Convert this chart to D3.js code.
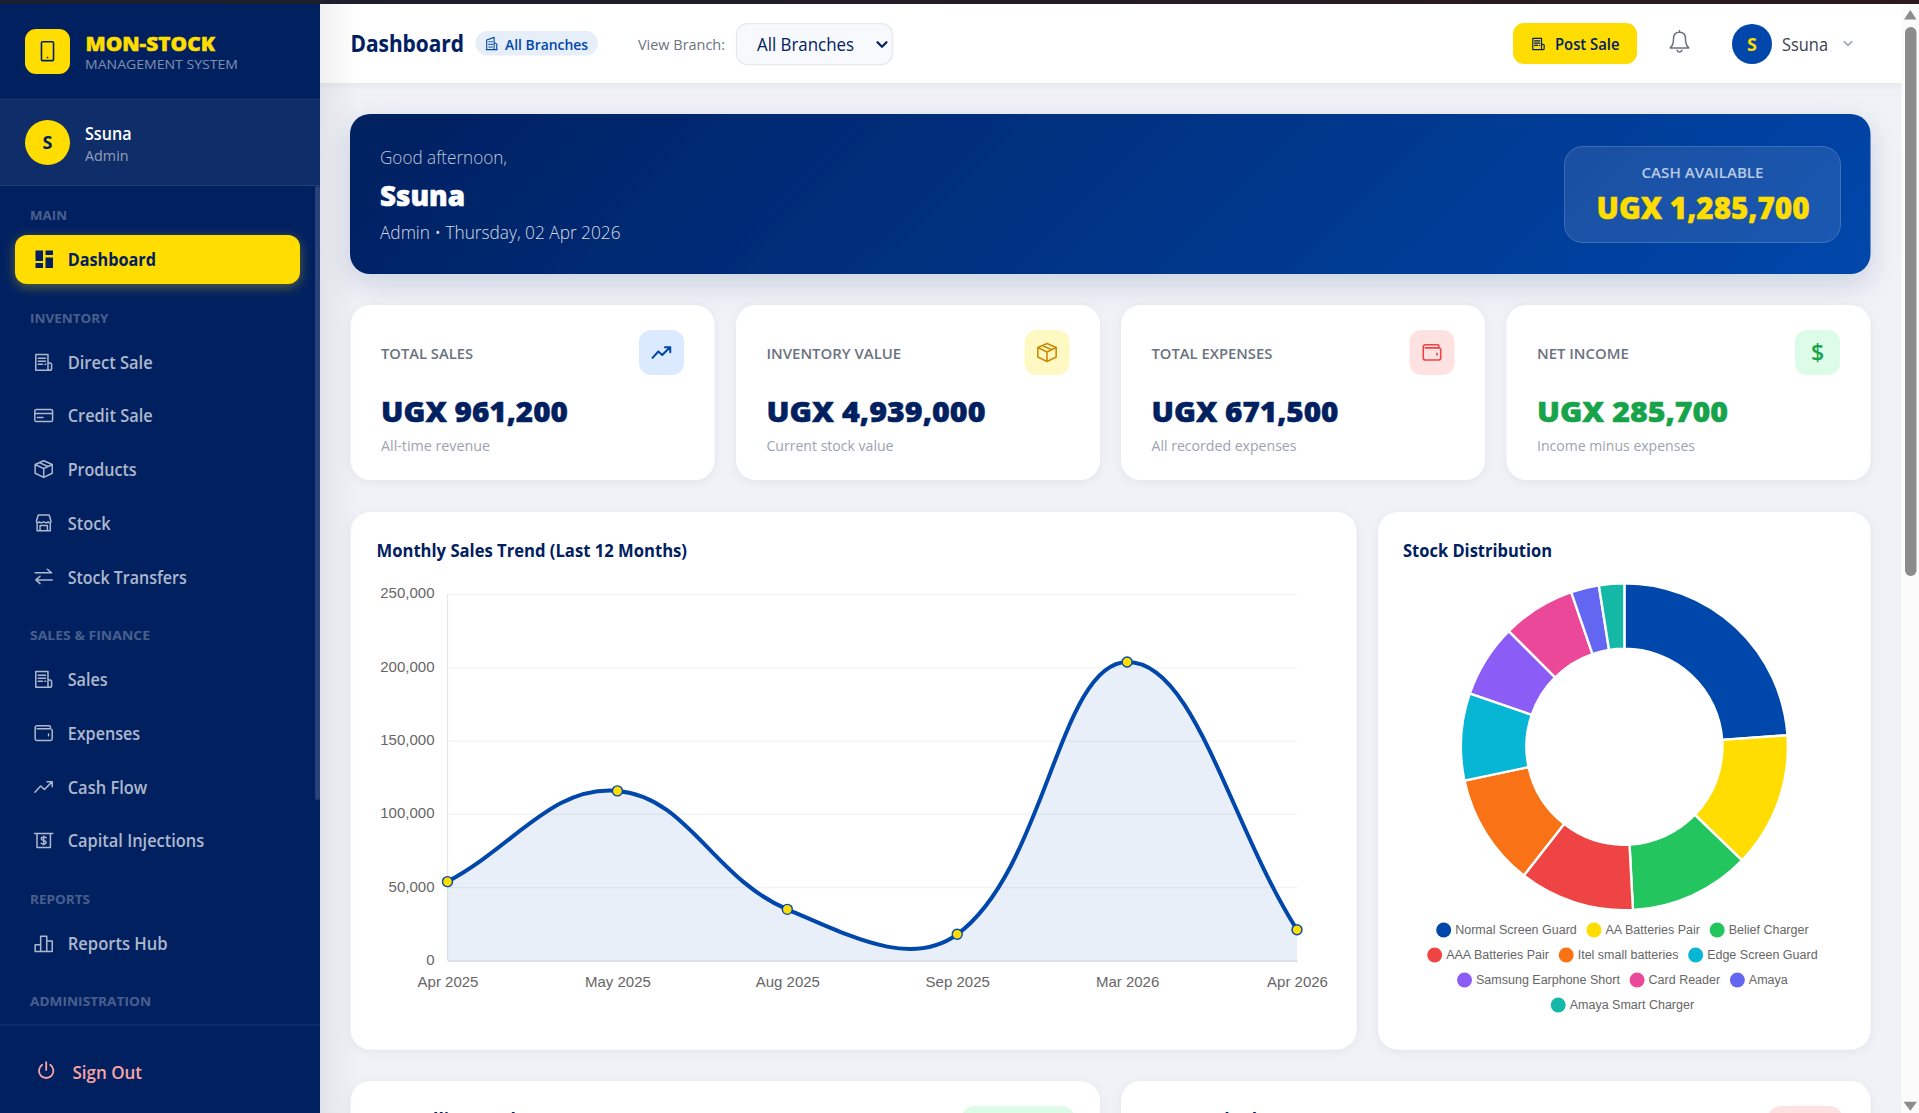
<!DOCTYPE html>
<html><head><meta charset="utf-8"><title>Dashboard</title>
<script src="https://cdn.jsdelivr.net/npm/d3@7"></script>
<style>html,body{margin:0;padding:0;overflow:hidden;background:#f0f2f7}svg{display:block}</style>
</head><body><svg id="page" width="1919" height="1113" viewBox="0 0 1919 1113"></svg>
<script>
// ---------- chart data ----------
const saleMonths = ['Apr 2025','May 2025','Aug 2025','Sep 2025','Mar 2026','Apr 2026'];
const saleValues = [53800,115700,34900,17900,203600,21000];
const salesTicks = [0,50000,100000,150000,200000,250000];
const stockNames = ['Normal Screen Guard','AA Batteries Pair','Belief Charger','AAA Batteries Pair','Itel small batteries','Edge Screen Guard','Samsung Earphone Short','Card Reader','Amaya','Amaya Smart Charger'];
const stockValues = [86,48,43,41,40,31,26,26,10,9];
const stockColors = ['#0047ab','#ffdd00','#22c55e','#ef4444','#f97316','#06b6d4','#8b5cf6','#ec4899','#6366f1','#14b8a6'];
// ---------- page text ----------
const kpiLabels = ['TOTAL SALES','INVENTORY VALUE','TOTAL EXPENSES','NET INCOME'];
const kpiValues = ['UGX 961,200','UGX 4,939,000','UGX 671,500','UGX 285,700'];
const kpiNotes = ['All-time revenue','Current stock value','All recorded expenses','Income minus expenses'];

const FONT = "'Open Sans','Noto Sans',sans-serif", ARIAL = "'Liberation Sans',Arial,sans-serif";
const NAVY='#002060', BLUE='#0047ab', YEL='#ffdd00';
const svg = d3.select('#page');
const defs = svg.append('defs');

function T(g,s,x,y,o={}){
  const t=g.append('text').text(s).attr('x',x).attr('y',y)
    .attr('font-family',o.font||FONT).attr('font-size',o.size||15).attr('font-weight',o.weight||400)
    .attr('fill',o.fill||'#000');
  if(o.anchor) t.attr('text-anchor',o.anchor);
  if(o.op) t.attr('fill-opacity',o.op);
  if(o.w) t.attr('textLength',o.w).attr('lengthAdjust','spacingAndGlyphs');
  if(o.heavy) t.attr('stroke',o.fill).attr('stroke-width',o.heavy).attr('stroke-linejoin','round');
  return t;
}
function R(g,x0,y0,x1,y1,r,fill,o={}){
  const e=g.append('rect').attr('x',x0).attr('y',y0).attr('width',x1-x0).attr('height',y1-y0).attr('rx',r).attr('fill',fill);
  if(o.stroke) e.attr('stroke',o.stroke).attr('stroke-width',o.sw||1);
  if(o.filter) e.attr('filter',`url(#${o.filter})`);
  return e;
}
function shadow(id,dy,std,col,op){
  const f=defs.append('filter').attr('id',id).attr('x','-20%').attr('y','-30%').attr('width','140%').attr('height','170%');
  f.append('feDropShadow').attr('dx',0).attr('dy',dy).attr('stdDeviation',std).attr('flood-color',col).attr('flood-opacity',op);
}
shadow('sCard',2,5,'#001040',0.06);
shadow('sHero',10,14,NAVY,0.16);
shadow('sGlow',3,6,YEL,0.35);
function lin(id,x1,y1,x2,y2,stops,user){
  const g=defs.append('linearGradient').attr('id',id).attr('x1',x1).attr('y1',y1).attr('x2',x2).attr('y2',y2);
  if(user) g.attr('gradientUnits','userSpaceOnUse');
  stops.forEach(s=>g.append('stop').attr('offset',s[0]).attr('stop-color',s[1]).attr('stop-opacity',s[2]==null?1:s[2]));
}
lin('gHero',690.5,-226,1530.5,614,[[0,NAVY],[1,BLUE]],true);
lin('gSide',0,0,1,0,[[0,'#000',0.06],[1,'#000',0]]);
lin('gTop',0,0,0,1,[[0,'#000',0.035],[1,'#000',0]]);
lin('gStrip',0,0,1,0,[[0,'#1b2030'],[1,'#2c1a1c']]);

const ICONS={
 receipt:'M1.5 14.5V1.5H11.5V14.5ZM3.5 4.5H9.5M3.5 7H9.5M3.5 9.5H7M9 9.5H9.7M11.5 8.5H13.2A1.3 1.3 0 0 1 14.5 9.8V13A1.5 1.5 0 0 1 11.5 13',
 card:'M2 3H14A1.3 1.3 0 0 1 15.3 4.3V11.7A1.3 1.3 0 0 1 14 13H2A1.3 1.3 0 0 1 .7 11.7V4.3A1.3 1.3 0 0 1 2 3ZM.7 6.3H15.3M2.8 9.6H7.5',
 box:'M8 1.2L15 4.2V11.4L8 14.8L1 11.4V4.2ZM1 4.2L8 7.6L15 4.2M8 7.6V14.8M4.4 2.7L11.6 5.9',
 shop:'M2 6.5L3.5 1.5H12.5L14 6.5C14 8 12.2 8 11.7 7C11 8 9 8 8 7C7 8 5 8 4.3 7C3.8 8 2 8 2 6.5ZM2.6 7.8V14.3H13.4V7.8M5 14.3V10H11V14.3',
 swap:'M1 4.6H14M11 1.6L14.4 4.6M1.6 10.4H15M5 7.4L1.6 10.4L5 13.4',
 wallet:'M3 1.8H12.5A1 1 0 0 1 13.5 2.8V4.3M2.6 4.3H13.5A1.6 1.6 0 0 1 15 5.8V12.5A1.6 1.6 0 0 1 13.5 14H2.6A1.6 1.6 0 0 1 1 12.5V3.4A1.6 1.6 0 0 1 2.6 1.8M12 8.6V10',
 trend:'M.8 12.3L5.5 7.2L8.6 10L14.6 4M10.8 3.7H15V7.8',
 cash:'M.5 2.2H15.5M2.5 2.2V13.8H13.5V2.2M8 4.6V11.4M10 5.8C9.5 4.8 6 4.6 6 6.5C6 8.6 10 7.4 10 9.5C10 11.4 6.5 11.2 6 10.2',
 bars:'M1 14.5V9H5.5V14.5ZM5.5 14.5V2H10.5V14.5ZM10.5 14.5V6H15V14.5Z',
 power:'M8 1V8M4.4 3.4A6.4 6.4 0 1 0 11.6 3.4',
 bell:'M8 1V2.2M8 2.2C5.2 2.2 4 4.3 4 6.6C4 10 3 11.5 1.8 12.6H14.2C13 11.5 12 10 12 6.6C12 4.3 10.8 2.2 8 2.2ZM6.4 14.2A1.7 1.7 0 0 0 9.6 14.2',
 building:'M2.5 15V4L11 1V15ZM11 7L14 8.5V15M2 15H14.5M5 6H6.4M8 6H9M5 9H6.4M8 9H9M5 12H9',
 phone:'M4.2 .8H11.8A.8.8 0 0 1 12.6 1.6V14.4A.8.8 0 0 1 11.8 15.2H4.2A.8.8 0 0 1 3.4 14.4V1.6A.8.8 0 0 1 4.2 .8ZM7.9 12.8H8.1',
 chev:'M2 5L8 11L14 5'
};
function icon(g,name,cx,cy,size,col,sw){
  const k=size/16;
  return g.append('path').attr('d',ICONS[name]).attr('transform',`translate(${cx-size/2},${cy-size/2}) scale(${k})`)
    .attr('fill','none').attr('stroke',col).attr('stroke-width',(sw||1.5)/k).attr('stroke-linejoin','round').attr('stroke-linecap','round');
}

// ---------- main background ----------
const mainG=svg.append('g');
R(mainG,0,0,1919,1113,0,'#f0f2f7');

// hero
R(mainG,350,114,1870.5,274,20,'url(#gHero)',{filter:'sHero'});
T(mainG,'Good afternoon,',380,164,{size:17.5,weight:300,fill:'#fff',op:.75,w:127});
T(mainG,'Ssuna',380,205.5,{size:28.5,weight:800,fill:'#fff',w:85,heavy:.6});
T(mainG,'Admin • Thursday, 02 Apr 2026',380,239,{size:17.5,weight:300,fill:'#fff',op:.85,w:240.5});
R(mainG,1564.5,146.5,1840.5,242.5,18,'#fff',{stroke:'#fff'}).attr('fill-opacity',.1).attr('stroke-opacity',.2);
T(mainG,'CASH AVAILABLE',1702.5,178.3,{size:15,weight:600,fill:'#fff',op:.7,anchor:'middle',w:122});
T(mainG,'UGX 1,285,700',1703,218.5,{size:30,weight:800,fill:YEL,anchor:'middle',w:213,heavy:.5});

// KPI cards
const kpiX=[350.5,736,1121,1506.5], kpiW=364;
const kpiBg=['#dbeafe','#fef9c3','#fee2e2','#dcfce7'], kpiFg=[BLUE,'#ca8a04','#ef4444','#16a34a'];
const kpiLabelW=[92,134.7,120.8,91.8], kpiValueW=[187,219,187,191], kpiNoteW=[109,127,145,158];
kpiLabels.forEach((lab,i)=>{
  const x=kpiX[i], g=mainG.append('g');
  R(g,x,305,x+kpiW,480,20,'#fff',{filter:'sCard'});
  T(g,lab,x+30.5,359,{size:15,weight:600,fill:'#6b7280',w:kpiLabelW[i]});
  T(g,kpiValues[i],x+30.5,421.7,{size:29,weight:800,fill:i===3?'#16a34a':NAVY,w:kpiValueW[i],heavy:.5});
  T(g,kpiNotes[i],x+30.5,451,{size:15,fill:'#9ca3af',w:kpiNoteW[i]});
  R(g,x+288.5,330,x+333.5,375,12,kpiBg[i]);
  const cx=x+311, cy=352.5;
  if(i===0) icon(g,'trend',cx,cy,20,kpiFg[i],2);
  if(i===1) icon(g,'box',cx,cy,21,kpiFg[i],1.6);
  if(i===2) icon(g,'wallet',cx,cy,20,kpiFg[i],1.6);
  if(i===3) T(g,'$',cx,cy+8,{size:23,weight:600,fill:kpiFg[i],anchor:'middle'});
});

// ---------- line chart card ----------
const lc=mainG.append('g');
R(lc,350.5,512,1356.5,1049.5,20,'#fff',{filter:'sCard'});
T(lc,'Monthly Sales Trend (Last 12 Months)',376.5,557,{size:17.5,weight:700,fill:NAVY,w:310.5});
const xS=d3.scalePoint().domain(saleMonths).range([447.5,1297]);
const yS=d3.scaleLinear().domain([0,250000]).range([960.5,594]);
const gridG=lc.append('g').attr('transform','translate(447.5,0)')
  .call(d3.axisLeft(yS).tickValues(salesTicks).tickFormat(d3.format(',')).tickSize(-(1297-447.5)).tickPadding(13));
gridG.select('.domain').remove();
gridG.selectAll('.tick line').attr('stroke','#000').attr('stroke-opacity',.05).attr('stroke-width',1.25);
gridG.selectAll('.tick text').attr('font-family',ARIAL).attr('font-size',15).attr('fill','#666').attr('y',-1);
lc.append('line').attr('x1',447.5).attr('x2',447.5).attr('y1',594).attr('y2',960.5).attr('stroke','#e5e7eb').attr('stroke-width',1.25);
const xAxisG=lc.append('g').attr('transform','translate(0,960.5)').call(d3.axisBottom(xS).tickSize(0).tickPadding(16));
xAxisG.select('.domain').attr('stroke','#d3d8e4').attr('stroke-width',1.25);
xAxisG.selectAll('.tick text').attr('font-family',ARIAL).attr('font-size',15).attr('fill','#666');

// same smoothing as a tension 0.4 spline: control points weighted by neighbour distance
function splineCurve(ctx){
  let pts=[];
  return {
    areaStart(){}, areaEnd(){},
    lineStart(){pts=[]},
    point(x,y){pts.push([+x,+y])},
    lineEnd(){
      const t=0.4, n=pts.length, cp=pts.map((p,i)=>{
        const a=pts[Math.max(i-1,0)], b=pts[Math.min(i+1,n-1)];
        const d1=Math.hypot(p[0]-a[0],p[1]-a[1]), d2=Math.hypot(b[0]-p[0],b[1]-p[1]);
        const f1=t*d1/((d1+d2)||1), f2=t*d2/((d1+d2)||1);
        return {px:p[0]-f1*(b[0]-a[0]),py:p[1]-f1*(b[1]-a[1]),nx:p[0]+f2*(b[0]-a[0]),ny:p[1]+f2*(b[1]-a[1])};
      });
      ctx.moveTo(pts[0][0],pts[0][1]);
      for(let i=1;i<n;i++) ctx.bezierCurveTo(cp[i-1].nx,cp[i-1].ny,cp[i].px,cp[i].py,pts[i][0],pts[i][1]);
    }
  };
}
const lineGen=d3.line().x((d,i)=>xS(saleMonths[i])).y(d=>yS(d)).curve(splineCurve);
const lineD=lineGen(saleValues);
lc.append('path').attr('d',`${lineD}L${xS(saleMonths[saleMonths.length-1])},${yS(0)}L${xS(saleMonths[0])},${yS(0)}Z`).attr('fill',BLUE).attr('fill-opacity',.085);
lc.append('path').attr('d',lineD).attr('fill','none').attr('stroke',BLUE).attr('stroke-width',4);
lc.selectAll('circle.pt').data(saleValues).join('circle').attr('class','pt')
  .attr('cx',(d,i)=>xS(saleMonths[i])).attr('cy',d=>yS(d)).attr('r',5)
  .attr('fill',YEL).attr('stroke',BLUE).attr('stroke-width',1.4);

// ---------- donut card ----------
const dc=mainG.append('g');
R(dc,1378,512,1870.5,1049.5,20,'#fff',{filter:'sCard'});
T(dc,'Stock Distribution',1403,557,{size:17.5,weight:700,fill:NAVY,w:149});
const DCX=1624.4, DCY=746.7;
const arcG=d3.arc().innerRadius(98).outerRadius(163.5);
dc.append('g').attr('transform',`translate(${DCX},${DCY})`).selectAll('path')
  .data(d3.pie().sort(null).value(d=>d)(stockValues)).join('path')
  .attr('d',arcG).attr('fill',(d,i)=>stockColors[i]).attr('stroke','#fff').attr('stroke-width',2.4);
// legend: wrap into centred rows from the measured text widths
const LEG_MAX=420, DOT_R=7.5, DOT_TXT=11.5, ITEM_GAP=9.7, ROW0=930, ROW_H=25;
const legG=dc.append('g');
const legItems=stockNames.map((label,i)=>{
  const t=T(legG,label,0,0,{font:ARIAL,size:12.5,fill:'#666'}).attr('dominant-baseline','central');
  return {label,i,t,w:t.node().getComputedTextLength()};
});
let rows=[[]], rowW=0;
legItems.forEach(it=>{
  const add=DOT_R+DOT_TXT+it.w;
  if(rowW+add>LEG_MAX && rows[rows.length-1].length){rows.push([]);rowW=0}
  rows[rows.length-1].push(it); rowW+=add+ITEM_GAP;
});
rows.forEach((row,ri)=>{
  const tot=d3.sum(row,d=>DOT_R+DOT_TXT+d.w)+ITEM_GAP*(row.length-1);
  let x=DCX-2-tot/2; const y=ROW0+ri*ROW_H;
  row.forEach(it=>{
    legG.append('circle').attr('cx',x+DOT_R).attr('cy',y).attr('r',DOT_R).attr('fill',stockColors[it.i]);
    it.t.attr('x',x+DOT_R+DOT_TXT).attr('y',y-.5);
    x+=DOT_R+DOT_TXT+it.w+ITEM_GAP;
  });
});

// ---------- lower cards, cut off by the window ----------
R(mainG,350.5,1081,1100,1200,20,'#fff',{filter:'sCard'});
R(mainG,1121,1081,1870.5,1200,20,'#fff',{filter:'sCard'});
T(mainG,'Top Selling Products',376.5,1126,{size:17.5,weight:700,fill:NAVY});
T(mainG,'Low Stock Alerts',1147,1126,{size:17.5,weight:700,fill:NAVY});
R(mainG,961,1106,1075,1150,14,'#dcfce7');
R(mainG,1767.5,1106,1843,1150,14,'#fee2e2');

// ---------- top bar ----------
const topBar=svg.append('g');
R(topBar,320,83,1903,91,0,'url(#gTop)');
R(topBar,320,4,1903,83,0,'#fff');
T(topBar,'Dashboard',350.5,51.5,{size:22.5,weight:700,fill:NAVY,w:113.5,heavy:.15});
R(topBar,475.5,31,598,55.5,12.2,'#e6eef9');
icon(topBar,'building',491.5,43.5,14,BLUE,1.1);
T(topBar,'All Branches',505,50,{size:15,weight:600,fill:BLUE,w:83});
T(topBar,'View Branch:',638,50,{size:15,weight:500,fill:'#6b7280',w:87});
R(topBar,736.5,23.5,892.5,64.5,11,'#f8f9fc',{stroke:'#e6e8ee',sw:1.25});
T(topBar,'All Branches',757,51,{size:17.5,weight:500,fill:NAVY,w:97});
icon(topBar,'chev',882,44.5,12,NAVY,2.2);
R(topBar,1513,23,1637,64,11,YEL);
icon(topBar,'receipt',1538.5,44,14,NAVY,1.15);
T(topBar,'Post Sale',1555,50,{size:16,weight:600,fill:NAVY,w:64.5});
icon(topBar,'bell',1679.5,41,24,'#6b7280',1.5);
topBar.append('circle').attr('cx',1752).attr('cy',44).attr('r',20).attr('fill',BLUE);
T(topBar,'S',1752,50.5,{size:18,weight:700,fill:YEL,anchor:'middle'});
T(topBar,'Ssuna',1782,51,{size:17.5,weight:500,fill:'#374151',w:46});
icon(topBar,'chev',1848,43.5,10,'#9ca3af',1.5);

// ---------- sidebar ----------
const side=svg.append('g');
R(side,0,0,320,1113,0,NAVY);
R(side,320,4,358,1113,0,'url(#gSide)');
R(side,0,99,320,186,0,'#fff').attr('fill-opacity',.06);
side.append('line').attr('x1',0).attr('x2',320).attr('y1',99).attr('y2',99).attr('stroke','#fff').attr('stroke-opacity',.07);
side.append('line').attr('x1',0).attr('x2',320).attr('y1',185.5).attr('y2',185.5).attr('stroke','#fff').attr('stroke-opacity',.09);
R(side,25,29,70,74,11,YEL);
icon(side,'phone',47.5,51.2,21,NAVY,1.6);
T(side,'MON-STOCK',85.5,51,{size:20,weight:800,fill:YEL,w:129.5,heavy:.5});
T(side,'MANAGEMENT SYSTEM',85,69,{size:12.5,fill:'#fff',op:.5,w:153});
side.append('circle').attr('cx',47.5).attr('cy',142.5).attr('r',22.5).attr('fill',YEL);
T(side,'S',47.5,149,{size:18,weight:700,fill:NAVY,anchor:'middle'});
T(side,'Ssuna',85,140,{size:17.5,weight:600,fill:'#fff',w:46.5});
T(side,'Admin',85,161,{size:15,fill:'#fff',op:.55,w:43.6});
R(side,315,186,320,800,2.5,'#fff').attr('fill-opacity',.16);

function section(s,y,w){T(side,s,30,y,{size:13,weight:700,fill:'#fff',op:.3,w})}
function nav(s,ic,y,w){
  icon(side,ic,43.7,y-6.5,19.5,'#aeb8cc',1.5);
  T(side,s,67.7,y,{size:17.8,weight:600,fill:'#aeb8cc',w});
}
section('MAIN',220,37);
R(side,15,235,300,284,12,YEL,{filter:'sGlow'});
side.append('path').attr('fill',NAVY).attr('d','M35.5 250.5H43V261H35.5ZM45.5 250.5H53V255H45.5ZM35.5 263H43V268H35.5ZM45.5 257.5H53V268H45.5Z');
T(side,'Dashboard',67.7,266,{size:17.8,weight:700,fill:NAVY,w:88.3});
section('INVENTORY',323,78.5);
nav('Direct Sale','receipt',368.9,85);
nav('Credit Sale','card',422,85);
nav('Products','box',475.6,69);
nav('Stock','shop',529.5,43);
nav('Stock Transfers','swap',583.5,119);
section('SALES & FINANCE',639.6,120);
nav('Sales','receipt',685.9,40);
nav('Expenses','wallet',739.8,72.5);
nav('Cash Flow','trend',793.5,79.5);
nav('Capital Injections','cash',847,136.5);
section('REPORTS',904,60);
nav('Reports Hub','bars',950,100);
section('ADMINISTRATION',1006,121);
R(side,0,1025,320,1113,0,NAVY);
side.append('line').attr('x1',0).attr('x2',320).attr('y1',1025).attr('y2',1025).attr('stroke','#fff').attr('stroke-opacity',.1);
icon(side,'power',46.2,1070,18,'#fca5a5',1.8);
T(side,'Sign Out',72.5,1078.5,{size:17.8,weight:600,fill:'#fca5a5',w:69.5});

// ---------- window chrome ----------
R(svg,0,0,1919,4,0,'url(#gStrip)');
R(svg,1901.5,4,1919,1113,0,'#fbfbfb');
R(svg,1905,27,1916.5,576,5.7,'#8c8c8c');
svg.append('path').attr('d','M1904 19.5L1910.3 10L1916.5 19.5Z').attr('fill','#8c8c8c');
svg.append('path').attr('d','M1903.5 1101.7L1910.3 1110.7L1917 1101.7Z').attr('fill','#8c8c8c');
</script></body></html>
